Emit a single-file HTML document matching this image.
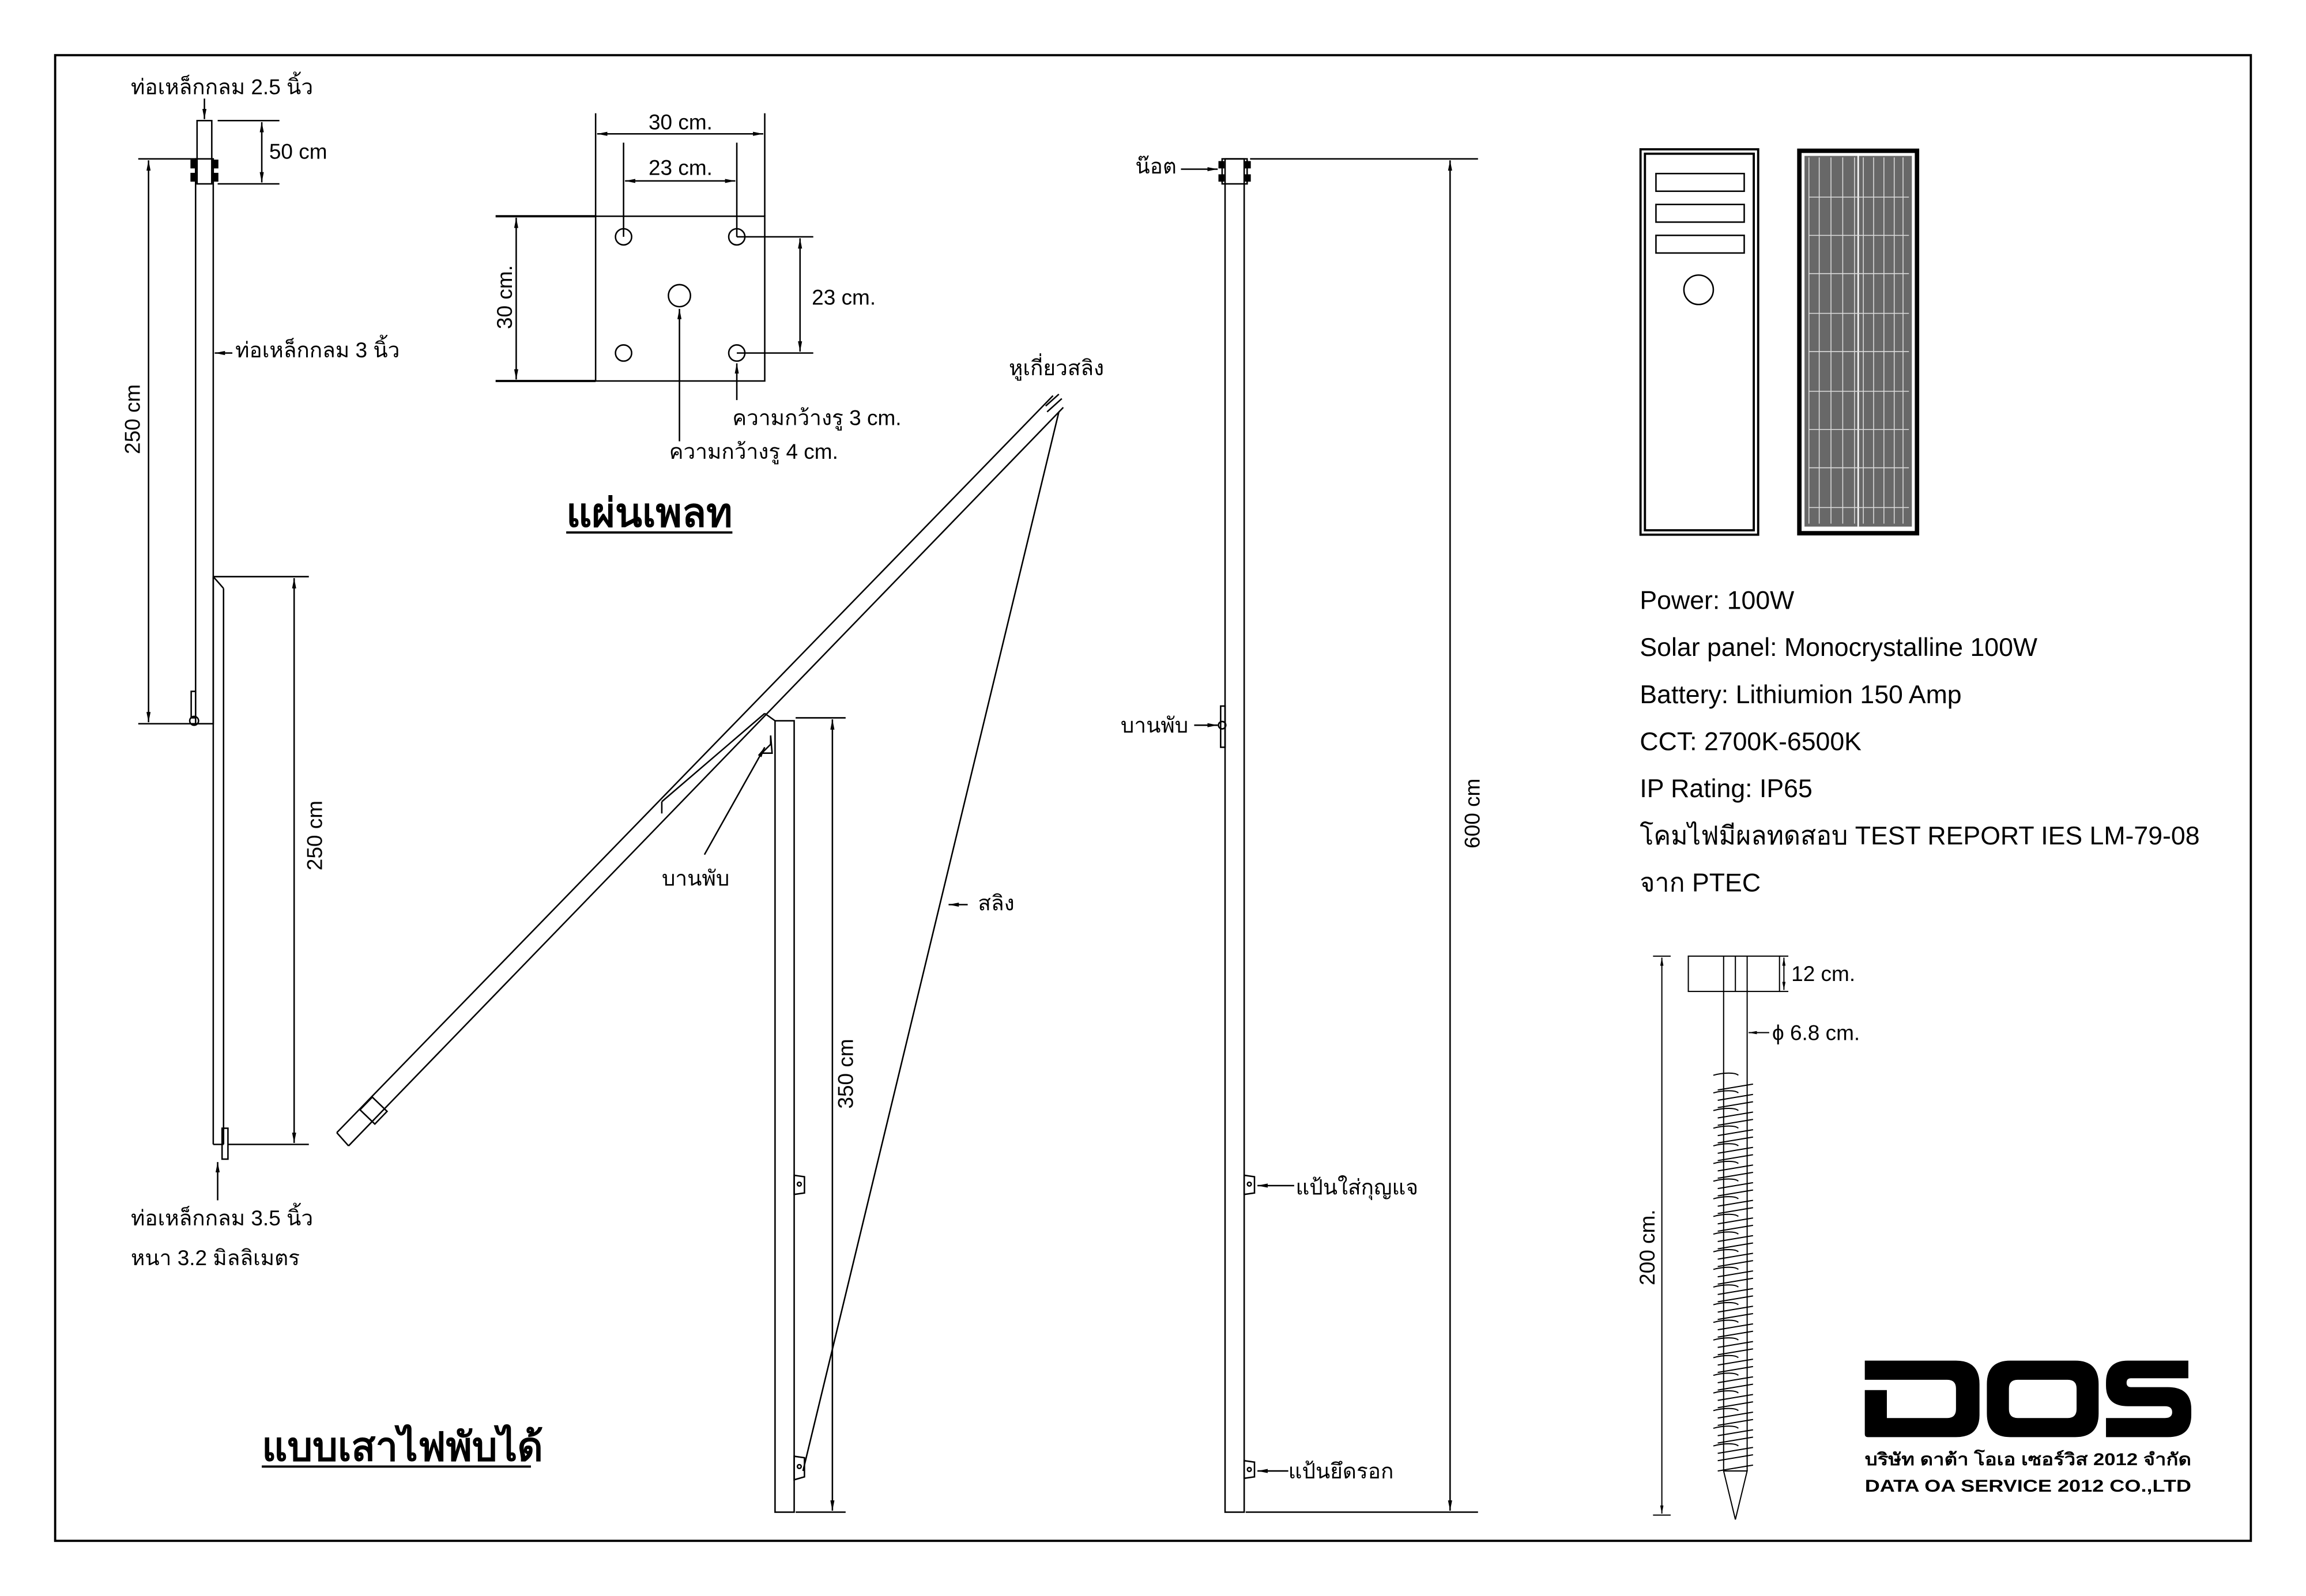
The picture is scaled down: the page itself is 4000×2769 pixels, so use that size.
<!DOCTYPE html>
<html><head><meta charset="utf-8"><style>
html,body{margin:0;padding:0;background:#fff}
svg{display:block}
text{font-family:"Liberation Sans","Noto Sans CJK SC",sans-serif;fill:#000}
</style></head><body>
<svg width="4000" height="2769" viewBox="0 0 1568 1085" preserveAspectRatio="none" xmlns="http://www.w3.org/2000/svg">
<defs>
<marker id="a" viewBox="0 0 10 10" refX="10" refY="5" markerWidth="7" markerHeight="7" orient="auto-start-reverse"><path d="M0,3 L10,5 L0,7 z" fill="#000"/></marker>
</defs>
<rect width="1568" height="1085" fill="#fff"/>
<rect x="37.5" y="37.5" width="1493" height="1010" fill="none" stroke="#000" stroke-width="1.5"/>

<g stroke="#000" fill="none" stroke-width="1">
<rect x="134" y="82" width="10" height="43"/>
<rect x="133" y="108" width="12" height="384"/>
<rect x="130" y="109" width="3" height="5" fill="#000"/><rect x="145" y="109" width="3" height="5" fill="#000"/>
<rect x="130" y="118" width="3" height="5" fill="#000"/><rect x="145" y="118" width="3" height="5" fill="#000"/>
<line x1="145" y1="392" x2="145" y2="778"/><line x1="152" y1="400" x2="152" y2="778"/>
<line x1="145" y1="392" x2="152" y2="400"/><line x1="145" y1="778" x2="152" y2="778"/>
<rect x="151" y="767" width="4" height="21"/>
<rect x="130" y="470" width="3" height="18"/><circle cx="132" cy="490" r="3"/>
<line x1="145" y1="392" x2="210" y2="392"/><line x1="155" y1="778" x2="210" y2="778"/>
<line x1="200" y1="393" x2="200" y2="777" marker-start="url(#a)" marker-end="url(#a)"/>
<line x1="148" y1="82" x2="190" y2="82"/><line x1="148" y1="125" x2="190" y2="125"/>
<line x1="178" y1="83" x2="178" y2="124" marker-start="url(#a)" marker-end="url(#a)"/>
<line x1="94" y1="108" x2="133" y2="108"/><line x1="94" y1="492" x2="133" y2="492"/>
<line x1="101" y1="109" x2="101" y2="491" marker-start="url(#a)" marker-end="url(#a)"/>
<line x1="139" y1="67" x2="139" y2="81" marker-end="url(#a)"/>
<line x1="158" y1="240" x2="146" y2="240" marker-end="url(#a)"/>
<line x1="148" y1="816" x2="148" y2="790" marker-end="url(#a)"/>

<rect x="405" y="147" width="115" height="112"/>
<line x1="405" y1="77" x2="405" y2="147"/><line x1="520" y1="77" x2="520" y2="147"/>
<line x1="406" y1="91" x2="519" y2="91" marker-start="url(#a)" marker-end="url(#a)"/>
<line x1="424" y1="97" x2="424" y2="161"/><line x1="501" y1="97" x2="501" y2="161"/>
<line x1="425" y1="123" x2="500" y2="123" marker-start="url(#a)" marker-end="url(#a)"/>
<line x1="337" y1="147" x2="405" y2="147" stroke-width="1.5"/><line x1="337" y1="259" x2="405" y2="259" stroke-width="1.5"/>
<line x1="351" y1="148" x2="351" y2="258" marker-start="url(#a)" marker-end="url(#a)"/>
<line x1="501" y1="161" x2="553" y2="161"/><line x1="501" y1="240" x2="553" y2="240"/>
<line x1="544" y1="162" x2="544" y2="239" marker-start="url(#a)" marker-end="url(#a)"/>
<circle cx="424" cy="161" r="5.5"/><circle cx="501" cy="161" r="5.5"/>
<circle cx="424" cy="240" r="5.5"/><circle cx="501" cy="240" r="5.5"/>
<circle cx="462" cy="201" r="7.5"/>
<line x1="462" y1="300" x2="462" y2="210" marker-end="url(#a)"/>
<line x1="501" y1="272" x2="501" y2="247" marker-end="url(#a)"/>

<rect x="527" y="490" width="13" height="538"/>
<line x1="229" y1="770" x2="716" y2="269"/>
<line x1="237" y1="779" x2="723" y2="277"/>
<line x1="229" y1="770" x2="237" y2="779"/>
<line x1="711" y1="276" x2="720" y2="268"/><line x1="712" y1="280" x2="722" y2="271"/>
<line x1="450" y1="545" x2="450" y2="553"/><line x1="450" y1="545" x2="520" y2="485"/>
<line x1="520" y1="485" x2="527" y2="490"/>
<path d="M518,512 L524,506 L524,500 L525,512 Z"/>
<rect x="248" y="748" width="12" height="14" transform="rotate(-46 254 755)"/>
<line x1="720" y1="280" x2="546" y2="1000"/>
<line x1="645" y1="615" x2="658" y2="615" marker-start="url(#a)"/>
<line x1="479" y1="581" x2="520" y2="508" marker-end="url(#a)"/>
<line x1="541" y1="488" x2="575" y2="488"/><line x1="541" y1="1028" x2="575" y2="1028"/>
<line x1="566" y1="489" x2="566" y2="1027" marker-start="url(#a)" marker-end="url(#a)"/>
<path d="M540,799 L547,800 L547,811 L540,812 Z"/><circle cx="543.5" cy="805" r="1.3"/>
<path d="M540,990 L547,991 L547,1004 L540,1006 Z"/><circle cx="543.5" cy="997" r="1.3"/>

<rect x="833" y="108" width="13" height="920"/>
<rect x="831" y="108" width="17" height="17"/>
<rect x="829" y="110" width="3" height="4" fill="#000"/><rect x="847" y="110" width="3" height="4" fill="#000"/>
<rect x="829" y="119" width="3" height="4" fill="#000"/><rect x="847" y="119" width="3" height="4" fill="#000"/>
<line x1="850" y1="108" x2="1005" y2="108"/><line x1="847" y1="1028" x2="1005" y2="1028"/>
<line x1="986" y1="109" x2="986" y2="1027" marker-start="url(#a)" marker-end="url(#a)"/>
<line x1="803" y1="115" x2="828" y2="115" marker-end="url(#a)"/>
<rect x="830" y="480" width="3" height="28"/><circle cx="831" cy="493" r="2.5"/>
<line x1="812" y1="493" x2="828" y2="493" marker-end="url(#a)"/>
<path d="M846,799 L853,800 L853,811 L846,812 Z"/><circle cx="849.5" cy="805" r="1.3"/>
<line x1="880" y1="806" x2="855" y2="806" marker-end="url(#a)"/>
<path d="M846,993 L853,994 L853,1004 L846,1005 Z"/><circle cx="849.5" cy="999" r="1.3"/>
<line x1="876" y1="1000" x2="855" y2="1000" marker-end="url(#a)"/>

<rect x="1115.5" y="101.5" width="80" height="262" stroke-width="1.5"/>
<rect x="1118.5" y="104.5" width="74" height="256" stroke-width="1.5"/>
<rect x="1126" y="118" width="60" height="12"/><rect x="1126" y="139" width="60" height="12"/><rect x="1126" y="160" width="60" height="12"/>
<ellipse cx="1155" cy="197" rx="10" ry="10"/>
</g>
<rect x="1223.5" y="102.5" width="80" height="260" fill="#fff" stroke="#000" stroke-width="3"/>
<rect x="1227" y="106" width="73" height="252" fill="#686868"/>
<g stroke="#ddd" stroke-width="0.6">
<line x1="1263.5" y1="106" x2="1263.5" y2="358" stroke="#fff" stroke-width="1"/>
<line x1="1230" y1="107" x2="1230" y2="356"/><line x1="1237" y1="107" x2="1237" y2="356"/><line x1="1245" y1="107" x2="1245" y2="356"/><line x1="1253" y1="107" x2="1253" y2="356"/><line x1="1261" y1="107" x2="1261" y2="356"/>
<line x1="1267" y1="107" x2="1267" y2="356"/><line x1="1274" y1="107" x2="1274" y2="356"/><line x1="1281" y1="107" x2="1281" y2="356"/><line x1="1288" y1="107" x2="1288" y2="356"/><line x1="1294" y1="107" x2="1294" y2="356"/>
<line x1="1230" y1="134" x2="1298" y2="134"/><line x1="1230" y1="160" x2="1298" y2="160"/><line x1="1230" y1="186" x2="1298" y2="186"/><line x1="1230" y1="213" x2="1298" y2="213"/><line x1="1230" y1="239" x2="1298" y2="239"/><line x1="1230" y1="266" x2="1298" y2="266"/><line x1="1230" y1="292" x2="1298" y2="292"/><line x1="1230" y1="318" x2="1298" y2="318"/><line x1="1230" y1="345" x2="1298" y2="345"/>
</g>

<g stroke="#000" fill="none" stroke-width="0.8">
<rect x="1148" y="650" width="62" height="24"/>
<line x1="1172" y1="650" x2="1172" y2="1000"/><line x1="1188" y1="650" x2="1188" y2="1000"/><line x1="1180" y1="650" x2="1180" y2="674"/>
<path d="M1172,1000 L1188,1000 L1180,1033 Z"/>
<line x1="1124" y1="650" x2="1136" y2="650"/><line x1="1124" y1="1030" x2="1136" y2="1030"/>
<line x1="1130" y1="651" x2="1130" y2="1029" marker-start="url(#a)" marker-end="url(#a)"/>
<line x1="1210" y1="650" x2="1216" y2="650"/><line x1="1210" y1="674" x2="1216" y2="674"/>
<line x1="1213" y1="651" x2="1213" y2="673" marker-start="url(#a)" marker-end="url(#a)"/>
<line x1="1203" y1="702" x2="1189" y2="702" marker-end="url(#a)"/>
<g id="th">
<path d="M1165,731 C1172,729 1180,729 1182,731"/><path d="M1168,741 L1192,737"/><path d="M1168,748 L1192,744"/>
</g>
<use href="#th" y="12"/><use href="#th" y="24"/><use href="#th" y="36"/><use href="#th" y="48"/><use href="#th" y="60"/><use href="#th" y="72"/><use href="#th" y="84"/><use href="#th" y="96"/><use href="#th" y="108"/><use href="#th" y="120"/><use href="#th" y="132"/><use href="#th" y="144"/><use href="#th" y="156"/><use href="#th" y="168"/><use href="#th" y="180"/><use href="#th" y="192"/><use href="#th" y="204"/><use href="#th" y="216"/><use href="#th" y="228"/><use href="#th" y="240"/><use href="#th" y="252"/>
</g>

<g font-size="14.5">
<text x="89" y="64">ท่อเหล็กกลม 2.5 นิ้ว</text>
<text x="183" y="108">50 cm</text>
<text x="160" y="243">ท่อเหล็กกลม 3 นิ้ว</text>
<text transform="translate(95,285) rotate(-90)" text-anchor="middle">250 cm</text>
<text transform="translate(219,568) rotate(-90)" text-anchor="middle">250 cm</text>
<text x="89" y="833">ท่อเหล็กกลม 3.5 นิ้ว</text>
<text x="89" y="860">หนา 3.2 มิลลิเมตร</text>
<text x="441" y="88">30 cm.</text>
<text x="441" y="119">23 cm.</text>
<text transform="translate(348,202) rotate(-90)" text-anchor="middle">30 cm.</text>
<text x="552" y="207">23 cm.</text>
<text x="498" y="289">ความกว้างรู 3 cm.</text>
<text x="455" y="312">ความกว้างรู 4 cm.</text>
<text x="686" y="255">หูเกี่ยวสลิง</text>
<text x="450" y="602">บานพับ</text>
<text x="665" y="619">สลิง</text>
<text transform="translate(580,730) rotate(-90)" text-anchor="middle">350 cm</text>
<text x="772" y="118">น๊อต</text>
<text x="762" y="498">บานพับ</text>
<text x="881" y="812">แป้นใส่กุญแจ</text>
<text x="876" y="1005">แป้นยึดรอก</text>
<text transform="translate(1006,553) rotate(-90)" text-anchor="middle">600 cm</text>
<text x="1218" y="667">12 cm.</text>
<text x="1205" y="707">ϕ 6.8 cm.</text>
<text transform="translate(1125,848) rotate(-90)" text-anchor="middle">200 cm.</text>
</g>
<g font-size="27" font-weight="bold">
<text x="385" y="358">แผ่นเพลท</text>
<text x="178" y="993">แบบเสาไฟพับได้</text>
</g>
<line x1="385" y1="362" x2="498" y2="362" stroke="#000" stroke-width="1.5"/>
<line x1="178" y1="997" x2="361" y2="997" stroke="#000" stroke-width="1.5"/>
<g font-size="17.5">
<text x="1115" y="414">Power: 100W</text>
<text x="1115" y="446">Solar panel: Monocrystalline 100W</text>
<text x="1115" y="478">Battery: Lithiumion 150 Amp</text>
<text x="1115" y="510">CCT: 2700K-6500K</text>
<text x="1115" y="542">IP Rating: IP65</text>
<text x="1115" y="574">โคมไฟมีผลทดสอบ TEST REPORT IES LM-79-08</text>
<text x="1115" y="606">จาก PTEC</text>
</g>
<g fill="#000">
<path d="M1268,925 H1330 Q1346,925 1346,941 V962 Q1346,977 1330,977 H1270 Q1268,977 1268,975 V945 H1283 V964 H1324 Q1330,964 1330,958 V944 Q1330,938 1324,938 H1268 Z"/>
<path d="M1367,925 H1411 Q1427,925 1427,941 V961 Q1427,977 1411,977 H1367 Q1351,977 1351,961 V941 Q1351,925 1367,925 Z M1372,938 Q1366,938 1366,944 V958 Q1366,964 1372,964 H1406 Q1412,964 1412,958 V944 Q1412,938 1406,938 Z" fill-rule="evenodd"/>
<path d="M1488,925 V937 H1449 Q1446,937 1446,940 Q1446,943 1449,943 H1474 Q1490,943 1490,958 V962 Q1490,977 1474,977 H1432 V964 H1472 Q1477,964 1477,960 Q1477,956 1472,956 H1447 Q1432,956 1432,942 V940 Q1432,925 1447,925 Z"/>
</g>
<text x="1268" y="996" font-size="11.5" font-weight="bold" textLength="222" lengthAdjust="spacingAndGlyphs">บริษัท ดาต้า โอเอ เซอร์วิส 2012 จำกัด</text>
<text x="1268" y="1014" font-size="11.5" font-weight="bold" textLength="222" lengthAdjust="spacingAndGlyphs">DATA OA SERVICE 2012 CO.,LTD</text>
</svg>
</body></html>
